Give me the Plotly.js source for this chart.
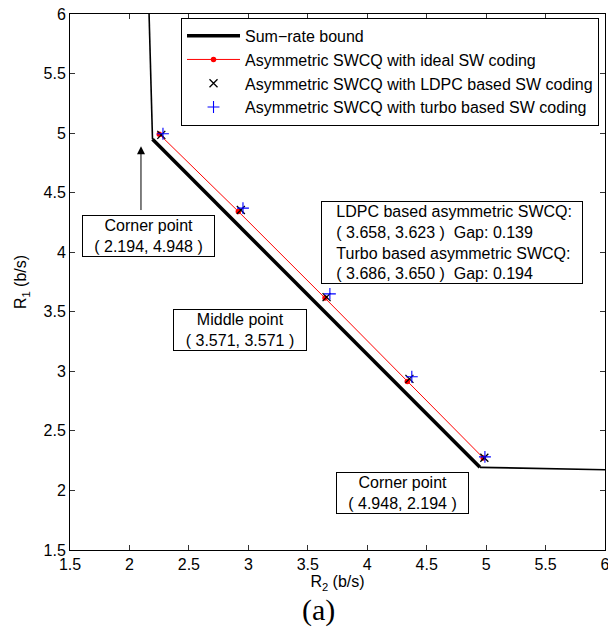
<!DOCTYPE html>
<html>
<head>
<meta charset="utf-8">
<script src="https://cdn.plot.ly/plotly-3.0.1.min.js"></script>
<style>html,body{margin:0;padding:0;background:#fff;}#chart{width:608px;height:637px;}</style>
</head>
<body>
<div id="chart"></div>
<script>
// Sum-rate bound: left tail, straight segment, right tail
const boundTopR2 = [2.165, 2.185, 2.194];
const boundTopR1 = [6.0, 5.4, 4.948];
const boundDiagR2 = [2.194, 4.948];
const boundDiagR1 = [4.948, 2.194];
const boundRightR2 = [4.948, 5.6, 6.0];
const boundRightR1 = [2.194, 2.185, 2.174];

// Asymmetric SWCQ with ideal SW coding
const idealR2 = [2.251, 2.916, 3.645, 4.337, 4.976];
const idealR1 = [4.991, 4.342, 3.615, 2.915, 2.273];
// Asymmetric SWCQ with LDPC based SW coding
const ldpcR2 = [2.268, 2.937, 3.658, 4.355, 4.985];
const ldpcR1 = [4.985, 4.355, 3.623, 2.937, 2.275];
// Asymmetric SWCQ with turbo based SW coding
const turboR2 = [2.282, 2.955, 3.686, 4.375, 4.990];
const turboR1 = [4.995, 4.370, 3.650, 2.955, 2.282];

const seriesNames = [
  "Sum\u2212rate bound",
  "Asymmetric SWCQ with ideal SW coding",
  "Asymmetric SWCQ with LDPC based SW coding",
  "Asymmetric SWCQ with turbo based SW coding"
];
const tickVals = [1.5, 2, 2.5, 3, 3.5, 4, 4.5, 5, 5.5, 6];

const FONT = "'Liberation Sans', Arial, sans-serif";
const NB = "\u00a0\u00a0\u00a0";

const traces = [
  {x: boundTopR2, y: boundTopR1, mode: "lines", line: {color: "black", width: 1.6}, showlegend: false, hoverinfo: "skip"},
  {x: boundRightR2, y: boundRightR1, mode: "lines", line: {color: "black", width: 1.6}, showlegend: false, hoverinfo: "skip"},
  {x: boundDiagR2, y: boundDiagR1, mode: "lines", name: seriesNames[0], line: {color: "black", width: 3.5}},
  {x: idealR2, y: idealR1, mode: "lines+markers", name: seriesNames[1], line: {color: "red", width: 1}, marker: {color: "red", size: 5.5, symbol: "circle"}},
  {x: ldpcR2, y: ldpcR1, mode: "markers", name: seriesNames[2], marker: {color: "black", size: 8, symbol: "x-thin-open", line: {color: "black", width: 1.3}}},
  {x: turboR2, y: turboR1, mode: "markers", name: seriesNames[3], marker: {color: "blue", size: 8.5, symbol: "cross-thin-open", line: {color: "blue", width: 1.1}}}
];

const axisCommon = {
  range: [1.5, 6], tickvals: tickVals, ticks: "inside", ticklen: 5, tickwidth: 1, tickcolor: "#333",
  showline: true, linecolor: "black", linewidth: 1, mirror: "allticks", ticklabeloverflow: "allow",
  showgrid: false, zeroline: false, tickfont: {family: FONT, size: 16, color: "black"}
};

const boxFont = {family: FONT, size: 16, color: "black"};

const layout = {
  width: 608, height: 637,
  margin: {l: 70, r: 3, t: 14, b: 87},
  paper_bgcolor: "white", plot_bgcolor: "white",
  showlegend: true,
  legend: {x: 0.2075, y: 0.993, xanchor: "left", yanchor: "top", bgcolor: "white", bordercolor: "black", borderwidth: 1,
           font: {family: FONT, size: 16, color: "black"}, tracegroupgap: 0, itemwidth: 53},
  xaxis: Object.assign({}, axisCommon, {title: {text: "R<sub>2</sub> (b/s)", font: {family: FONT, size: 16, color: "black"}, standoff: 2}}),
  yaxis: Object.assign({}, axisCommon, {title: {text: "R<sub>1</sub> (b/s)", font: {family: FONT, size: 16, color: "black"}, standoff: 12}}),
  annotations: [
    {x: 2.097, y: 4.89, ax: 2.097, ay: 4.27, xref: "x", yref: "y", axref: "x", ayref: "y", text: " ", showarrow: true,
     arrowhead: 2, arrowsize: 1.6, arrowwidth: 1, arrowcolor: "black"},
    {x: 2.16, y: 4.138, xref: "x", yref: "y", text: "Corner point<br>( 2.194, 4.948 )", showarrow: false,
     font: boxFont, align: "center", bordercolor: "black", borderwidth: 1, borderpad: 1, bgcolor: "white", width: 129},
    {x: 2.93, y: 3.349, xref: "x", yref: "y", text: "Middle point<br>( 3.571, 3.571 )", showarrow: false,
     font: boxFont, align: "center", bordercolor: "black", borderwidth: 1, borderpad: 1, bgcolor: "white", width: 130},
    {x: 4.296, y: 1.978, xref: "x", yref: "y", text: "Corner point<br>( 4.948, 2.194 )", showarrow: false,
     font: boxFont, align: "center", bordercolor: "black", borderwidth: 1, borderpad: 1, bgcolor: "white", width: 129},
    {x: 4.709, y: 4.079, xref: "x", yref: "y",
     text: NB + "LDPC based asymmetric SWCQ:<br>" + NB + "( 3.658, 3.623 )  Gap: 0.139<br>" + NB + "Turbo based asymmetric SWCQ:<br>" + NB + "( 3.686, 3.650 )  Gap: 0.194",
     showarrow: false, font: boxFont, align: "left", bordercolor: "black", borderwidth: 1, borderpad: 1, bgcolor: "white", width: 258},
    {x: 0.4636, y: 0, xref: "paper", yref: "paper", yshift: -60, yanchor: "middle", text: "(a)", showarrow: false,
     font: {family: "'Liberation Serif', 'Times New Roman', serif", size: 30, color: "black"}}
  ]
};

Plotly.newPlot("chart", traces, layout, {displayModeBar: false, staticPlot: true});
</script>
</body>
</html>
